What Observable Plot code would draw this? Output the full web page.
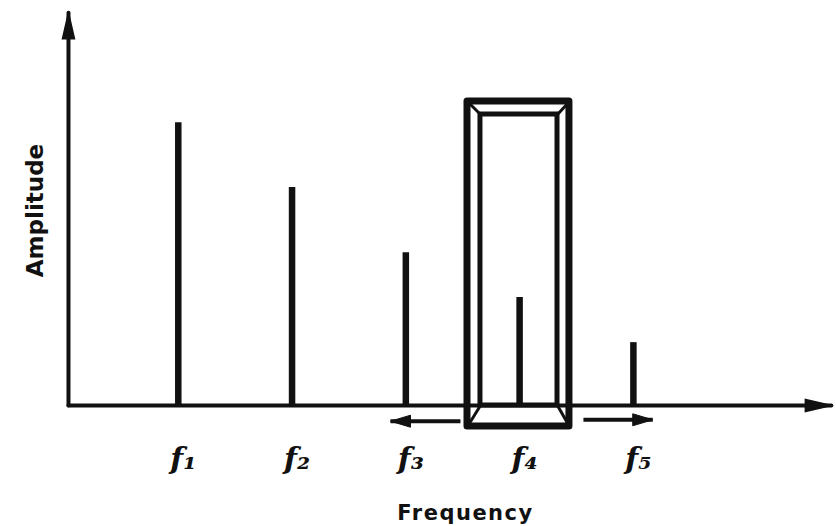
<!DOCTYPE html>
<html>
<head>
<meta charset="utf-8">
<script src="https://cdn.jsdelivr.net/npm/d3@7"></script>
<script src="https://cdn.jsdelivr.net/npm/@observablehq/plot@0.6"></script>
<style>
  html, body { margin: 0; padding: 0; background: #fff; }
  #chart svg { display: block; }
</style>
</head>
<body>
<div id="chart"></div>
<script>
// ---- data ----
const freqLabels = ["f₁", "f₂", "f₃", "f₄", "f₅"];
const freqPositions = [1, 2, 3, 4, 5];
const amplitudes = [0.99, 0.763, 0.535, 0.378, 0.22];
const xAxisTitle = "Frequency";
const yAxisTitle = "Amplitude";
// window (bandpass box) around f4, in data units
const windowOuter = {x1: 3.542, x2: 4.438, y1: -0.0735, y2: 1.064};
const windowInner = {x1: 3.656, x2: 4.333, y1: 0, y2: 1.0185};
// arrows: axes and the shift arrows under the axis
const axisArrows = [
  {x1: 0.035, y1: 0, x2: 0.035, y2: 1.375, dir: 0},
  {x1: 0.035, y1: 0, x2: 6.74, y2: 0, dir: 90}
];
const shiftArrows = [
  {x1: 3.48, y1: -0.055, x2: 2.865, y2: -0.055, dir: -90},
  {x1: 4.561, y1: -0.05, x2: 5.17, y2: -0.05, dir: 90}
];

const lines = freqPositions.map((f, i) => ({f, a: amplitudes[i], label: freqLabels[i]}));

// narrow filled arrowhead: tip at origin, pointing up
const arrowHead = (len, half) => ({
  draw(context) {
    context.moveTo(0, 0);
    context.lineTo(half, len);
    context.lineTo(-half, len);
    context.closePath();
  }
});

const corners = [
  {x1: windowOuter.x1, y1: windowOuter.y2, x2: windowInner.x1, y2: windowInner.y2},
  {x1: windowOuter.x2, y1: windowOuter.y2, x2: windowInner.x2, y2: windowInner.y2},
  {x1: windowOuter.x1, y1: windowOuter.y1, x2: windowInner.x1, y2: windowInner.y1},
  {x1: windowOuter.x2, y1: windowOuter.y1, x2: windowInner.x2, y2: windowInner.y1}
];

const chart = Plot.plot({
  width: 836,
  height: 526,
  marginLeft: 64,
  marginRight: 4,
  marginTop: 5,
  marginBottom: 121,
  x: {domain: [0, 6.75], axis: null},
  y: {domain: [0, 1.4], axis: null},
  style: {background: "#fff", color: "#111"},
  marks: [
    // axes
    Plot.link(axisArrows, {x1: "x1", y1: "y1", x2: "x2", y2: "y2", stroke: "#111", strokeWidth: 4, strokeLinecap: "round"}),
    Plot.dot(axisArrows, {x: "x2", y: "y2", rotate: "dir", symbol: arrowHead(26, 6), fill: "#111", stroke: "#111", strokeWidth: 1.5, r: 5}),
    // spectral lines
    Plot.ruleX(lines, {x: "f", y1: 0, y2: "a", stroke: "#111", strokeWidth: 6.5}),
    // window box
    Plot.rect([windowOuter], {x1: "x1", x2: "x2", y1: "y1", y2: "y2", fill: "none", stroke: "#111", strokeWidth: 7, strokeLinejoin: "round"}),
    Plot.rect([windowInner], {x1: "x1", x2: "x2", y1: "y1", y2: "y2", fill: "none", stroke: "#111", strokeWidth: 5}),
    Plot.link(corners, {x1: "x1", y1: "y1", x2: "x2", y2: "y2", stroke: "#111", strokeWidth: 3}),
    // shift arrows
    Plot.link(shiftArrows, {x1: "x1", y1: "y1", x2: "x2", y2: "y2", stroke: "#111", strokeWidth: 4}),
    Plot.dot(shiftArrows, {x: "x2", y: "y2", rotate: "dir", symbol: arrowHead(20, 6), fill: "#111", stroke: "#111", strokeWidth: 1, r: 5}),
    // frequency labels
    Plot.text(lines, {x: "f", y: 0, text: "label", dy: 54, dx: 5, fontSize: 30, fontWeight: "bold", fontStyle: "italic", fontFamily: "DejaVu Serif", fill: "#111", lineAnchor: "middle"}),
    // axis titles
    Plot.text([xAxisTitle], {frameAnchor: "bottom", dx: 17, dy: 114, fontSize: 21, fontWeight: "bold", fontFamily: "DejaVu Sans", fill: "#111", lineAnchor: "bottom"}),
    Plot.text([yAxisTitle], {frameAnchor: "left", textAnchor: "middle", rotate: -90, dx: -29, dy: 5, fontSize: 23, fontWeight: "bold", fontFamily: "DejaVu Sans", fill: "#111"})
  ]
});

d3.select(chart).selectAll("text").filter(function() { return this.textContent === xAxisTitle; }).attr("letter-spacing", 1.5);
document.getElementById("chart").appendChild(chart);
</script>
</body>
</html>
